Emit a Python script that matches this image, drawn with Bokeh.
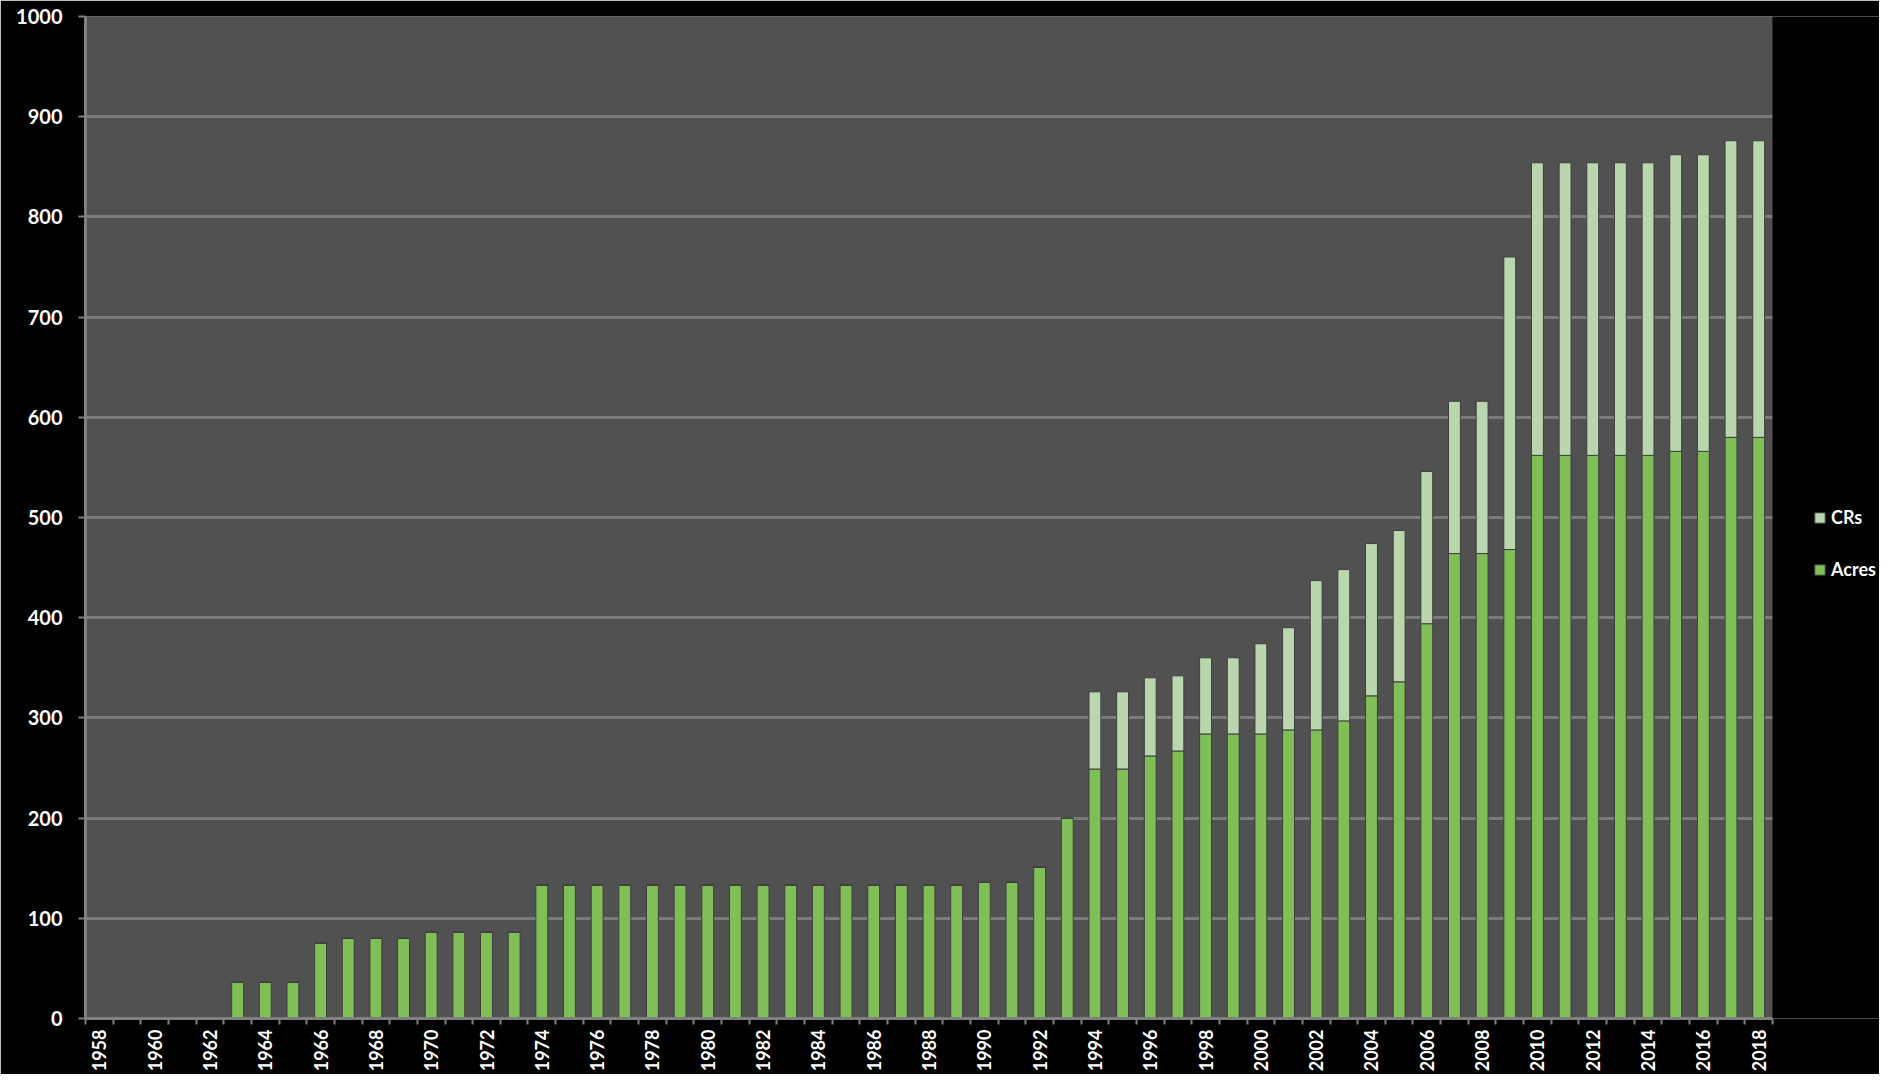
import math
from bokeh.plotting import figure
from bokeh.models import (ColumnDataSource, FixedTicker, Legend, LegendItem, Range1d,
                          BoxAnnotation)
from bokeh.embed import file_html
from bokeh.resources import INLINE

years = list(range(1958, 2019))
acres = [0, 0, 0, 0, 0,
         36, 36, 36,
         75,
         80, 80, 80,
         86, 86, 86, 86,
         133, 133, 133, 133, 133, 133, 133, 133, 133, 133, 133, 133, 133, 133, 133, 133,
         136, 136,
         151,
         200,
         249, 249,
         262,
         267,
         284, 284, 284,
         288, 288,
         297,
         322,
         336,
         394,
         464, 464,
         468,
         562, 562, 562, 562, 562,
         566, 566,
         580, 580]
crs = [0] * 36 + [
         77, 77,
         78,
         75,
         76, 76, 90,
         102, 149,
         151,
         152,
         151,
         152,
         152, 152,
         292,
         292, 292, 292, 292, 292,
         296, 296,
         296, 296]

series = ["Acres", "CRs"]
colors = ["#80bf57", "#bad6ae"]
label_years = list(range(1958, 2019, 2))
y_ticks = list(range(0, 1001, 100))

src = ColumnDataSource(dict(year=years, Acres=acres, CRs=crs))

FONT = "Lato"
X0, X1 = years[0] - 0.5, years[-1] + 0.5
LEFT = 85
PLOT_W = 1687          # width of the grey plotting area in px
LEG_W = 1879 - LEFT - PLOT_W   # black strip on the right that holds the legend
px_per_year = PLOT_W / (X1 - X0)

p = figure(frame_width=PLOT_W + LEG_W, frame_height=1002, output_backend="svg",
           toolbar_location=None,
           x_range=Range1d(X0, X1 + LEG_W / px_per_year), y_range=Range1d(0, 1000),
           min_border_left=LEFT, min_border_right=0, min_border_top=16, min_border_bottom=53)
p.border_fill_color = "black"
p.background_fill_color = "#515151"
p.outline_line_color = None

r = p.vbar_stack(series, x="year", width=0.43, source=src,
                 fill_color=colors, line_color="#3e3e3e", line_width=1)

# black out the strip right of the plotting area (legend zone)
p.add_layout(BoxAnnotation(left=X1, fill_color="black", fill_alpha=1, line_color=None))

p.xgrid.grid_line_color = None
p.ygrid.grid_line_color = "#7c7c7c"
p.ygrid.grid_line_width = 3
p.ygrid.ticker = FixedTicker(ticks=y_ticks)

p.yaxis.ticker = FixedTicker(ticks=y_ticks)
p.yaxis.axis_line_color = "#808080"
p.yaxis.axis_line_width = 3
p.yaxis.major_tick_line_color = "#808080"
p.yaxis.major_tick_line_width = 2
p.yaxis.major_tick_out = 7
p.yaxis.major_tick_in = 0
p.yaxis.minor_tick_line_color = None
p.yaxis.major_label_standoff = 16
p.yaxis.major_label_text_font_size = "20px"

p.xaxis.ticker = FixedTicker(ticks=label_years, minor_ticks=[y - 0.5 for y in years] + [X1])
p.xaxis.bounds = (X0, X1)
p.xaxis.axis_line_color = "#808080"
p.xaxis.axis_line_width = 3
p.xaxis.major_tick_line_color = None
p.xaxis.minor_tick_line_color = "#808080"
p.xaxis.minor_tick_line_width = 2
p.xaxis.minor_tick_out = 6
p.xaxis.minor_tick_in = 0
p.xaxis.major_label_orientation = math.pi / 2
p.xaxis.major_label_standoff = 5
p.xaxis.major_label_text_font_size = "18px"

for ax in (p.xaxis, p.yaxis):
    ax.major_label_text_color = "white"
    ax.major_label_text_font = FONT
    ax.major_label_text_font_style = "bold"

legend = Legend(items=[LegendItem(label="CRs", renderers=[r[1]]),
                       LegendItem(label="Acres", renderers=[r[0]])],
                location=(PLOT_W + 41, 438), orientation="vertical")
legend.background_fill_alpha = 0
legend.border_line_alpha = 0
legend.padding = 0
legend.margin = 0
legend.spacing = 30
legend.glyph_width = 13
legend.glyph_height = 13
legend.label_height = 20
legend.label_standoff = 5
legend.label_text_color = "white"
legend.label_text_font = FONT
legend.label_text_font_style = "bold"
legend.label_text_font_size = "18px"
p.add_layout(legend, "center")

open("out.html", "w").write(file_html(p, INLINE))
